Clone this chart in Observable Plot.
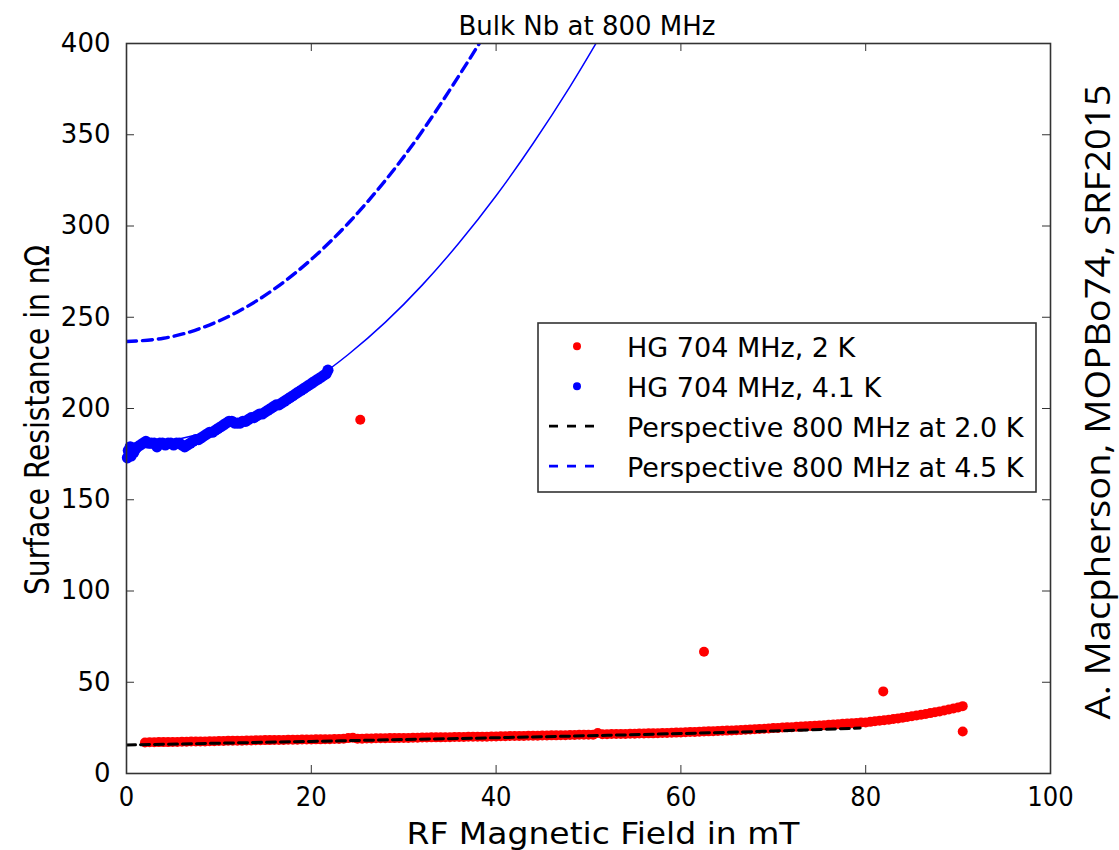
<!DOCTYPE html>
<html><head><meta charset="utf-8">
<script src="https://cdn.jsdelivr.net/npm/d3@7"></script>
<script src="https://cdn.jsdelivr.net/npm/@observablehq/plot@0.6"></script>
<style>body{margin:0;background:#fff;} svg{display:block}</style>
</head><body><div id="chart"></div>
<script>
// ---- data ----
const titleText = "Bulk Nb at 800 MHz";
const xLabel = "RF Magnetic Field in mT";
const yLabel = "Surface Resistance in nΩ";
const sideNote = "A. Macpherson, MOPBo74, SRF2015";
const xTicks = [0, 20, 40, 60, 80, 100];
const yTicks = [0, 50, 100, 150, 200, 250, 300, 350, 400];
const legendLabels = ["HG 704 MHz, 2 K", "HG 704 MHz, 4.1 K", "Perspective 800 MHz at 2.0 K", "Perspective 800 MHz at 4.5 K"];
const legendColors = ["#ff0000", "#0000ff", "#000000", "#0000ff"];
const legendKinds = ["dot", "dot", "dash", "dash"];

// HG 704 MHz, 4.1 K (measured)
const blue41Field = [0.1,0.2,0.3,0.4,0.5,0.6,0.8,1.0,1.2,1.5,1.8,2.1,2.4,2.7,3.0,3.3,3.6,3.9,4.2,4.5,4.8,5.1,5.4,5.7,6.0,6.3,6.6,6.9,7.2,7.5,7.8,8.1,8.4,8.7,9.0,9.3,9.6,9.9,10.2,10.5,10.8,11.1,11.4,11.7,12.0,12.3,12.6,12.9,13.2,13.5,13.8,14.1,14.4,14.7,15.0,15.3,15.6,15.9,16.2,16.5,16.8,17.1,17.4,17.7,18.0,18.3,18.6,18.9,19.2,19.5,19.8,20.1,20.4,20.7,21.0,21.3,21.6,21.8];
const blue41Rs = [173,177,175,179,174,178,176,178,179,180,
  181,182,181,181,181,179,181,181,180,181,
  181,180,181,181,180,179,180,181,182,183,
  183,184,185,186,187,187,188,189,190,191,
  192,193,193,192,192,192,193,193,194,195,
  195,196,197,197,198,199,200,201,202,202,
  203,204,205,206,207,208,209,210,211,212,
  213,214,215,216,217,218,219,221];

// HG 704 MHz, 2 K (measured)
const red2Field = [2,2.5,3,3.5,4,4.5,5,5.5,6,6.5,7,7.5,8,8.5,9,9.5,10,
  10.5,11,11.5,12,12.5,13,13.5,14,14.5,15,15.5,16,16.5,17,17.5,18,18.5,19,19.5,20,
  20.5,21,21.5,22,22.5,23,23.5,24,24.5,25,25.5,26,26.5,27,27.5,28,28.5,29,29.5,30,
  30.5,31,31.5,32,32.5,33,33.5,34,34.5,35,35.5,36,36.5,37,37.5,38,38.5,39,39.5,40,
  40.5,41,41.5,42,42.5,43,43.5,44,44.5,45,45.5,46,46.5,47,47.5,48,48.5,49,49.5,50,
  50.5,51,51.5,52,52.5,53,53.5,54,54.5,55,55.5,56,56.5,57,57.5,58,58.5,59,59.5,60,
  60.5,61,61.5,62,62.5,63,63.5,64,64.5,65,65.5,66,66.5,67,67.5,68,68.5,69,69.5,70,
  70.5,71,71.5,72,72.5,73,73.5,74,74.5,75,75.5,76,76.5,77,77.5,78,78.5,79,79.5,80,
  80.5,81,81.5,82,82.5,83,83.5,84,84.5,85,85.5,86,86.5,87,87.5,88,88.5,89,89.5,90,90.5,
  25.3,62.5,81.9,90.5];
const red2Rs = [17.0,17.1,17.1,17.2,17.2,17.2,17.3,17.3,17.4,17.4,17.5,17.5,17.6,17.6,17.7,17.7,17.8,
  17.8,17.9,17.9,18.0,18.0,18.1,18.1,18.2,18.2,18.3,18.3,18.4,18.4,18.4,18.5,18.5,18.5,18.6,18.6,18.6,
  18.7,18.7,18.8,18.8,18.9,18.9,19.0,19.4,19.6,19.1,19.1,19.2,19.2,19.3,19.3,19.3,19.4,19.4,19.5,19.5,
  19.5,19.6,19.6,19.7,19.7,19.8,19.8,19.8,19.9,19.9,20.0,20.0,20.0,20.1,20.1,20.2,20.2,20.2,20.3,20.3,
  20.4,20.4,20.5,20.5,20.6,20.6,20.7,20.7,20.7,20.8,20.8,20.9,20.9,21.0,21.0,21.1,21.1,21.2,21.2,21.3,
  21.3,22.2,21.5,21.5,21.6,21.6,21.7,21.7,21.8,21.8,21.9,21.9,22.0,22.0,22.1,22.2,22.2,22.3,22.4,22.5,
  22.6,22.7,22.8,22.9,23.0,23.1,23.2,23.3,23.4,23.5,23.6,23.7,23.8,24.0,24.1,24.3,24.4,24.5,24.7,24.9,
  25.0,25.2,25.3,25.4,25.6,25.7,25.9,26.0,26.2,26.3,26.5,26.7,26.8,27.0,27.2,27.4,27.5,27.7,27.9,28.0,
  28.3,28.6,28.9,29.2,29.5,29.9,30.2,30.6,31.0,31.4,31.8,32.2,32.6,33.1,33.6,34.0,34.5,35.1,35.6,36.2,36.9,
  193.8,66.7,45.0,23.0];

// Perspective 800 MHz at 2.0 K
const persp20Field = [0, 10, 20, 30, 40, 50, 60, 70, 79.4];
const persp20Rs = [15.6, 16.6, 17.6, 18.6, 19.6, 20.7, 21.9, 23.3, 24.9];
// Perspective 800 MHz at 4.5 K
const persp45Field = [0, 4, 8, 12, 16, 20, 24, 28, 32, 36, 38.3];
const persp45Rs = [236.7, 238.5, 243.9, 252.9, 265.5, 281.7, 301.5, 324.9, 351.9, 382.5, 401];
// fit through the 4.1 K data
const fit41Field = [0, 4, 8, 12, 16, 20, 24, 28, 32, 36, 40, 44, 48, 51];
const fit41Rs = [180.6, 182.0, 186.0, 192.8, 202.4, 214.6, 229.6, 247.2, 267.6, 290.8, 316.6, 345.2, 376.4, 401.7];

// ---- build tables ----
const zip = (xs, ys) => xs.map((x, i) => ({x, y: ys[i]}));
const blue41 = zip(blue41Field, blue41Rs);
const red2 = zip(red2Field, red2Rs);
const persp20 = zip(persp20Field, persp20Rs);
const persp45 = zip(persp45Field, persp45Rs);
const fit41 = zip(fit41Field, fit41Rs);

const W = 1119, H = 850, mT = 43, mB = 77, mL = 126, mR = 69;
const frameW = W - mL - mR, frameH = H - mT - mB, tickLen = 8;

const chart = Plot.plot({
  width: W, height: H,
  marginTop: mT, marginBottom: mB, marginLeft: mL, marginRight: mR,
  x: {domain: [0, 100]},
  y: {domain: [0, 400]},
  style: {fontFamily: "'DejaVu Sans', sans-serif", fontSize: "26px", background: "white", color: "black"},
  marks: [
    Plot.line(fit41, {x: "x", y: "y", stroke: "#0000ff", strokeWidth: 1.5, curve: "natural", clip: true}),
    Plot.dot(red2, {x: "x", y: "y", r: 5, fill: "#ff0000", stroke: "none"}),
    Plot.dot(blue41, {x: "x", y: "y", r: 5.6, fill: "#0000ff", stroke: "none"}),
    Plot.line(persp20, {x: "x", y: "y", stroke: "black", strokeWidth: 3, strokeDasharray: "9,5", curve: "natural", clip: true}),
    Plot.line(persp45, {x: "x", y: "y", stroke: "#0000ff", strokeWidth: 3.4, strokeDasharray: "10,6", curve: "natural", clip: true}),
    Plot.ruleX(xTicks, {x: d => d, insetTop: frameH - tickLen, stroke: "#333", strokeWidth: 1}),
    Plot.ruleX(xTicks, {x: d => d, insetBottom: frameH - tickLen, stroke: "#333", strokeWidth: 1}),
    Plot.ruleY(yTicks, {y: d => d, insetRight: frameW - tickLen, stroke: "#333", strokeWidth: 1}),
    Plot.ruleY(yTicks, {y: d => d, insetLeft: frameW - tickLen, stroke: "#333", strokeWidth: 1}),
    Plot.frame({stroke: "#333", strokeWidth: 1.6}),
    Plot.axisX({ticks: xTicks, tickSize: 0, tickPadding: 13, label: null, fontSize: 27,
      fontFamily: "'DejaVu Sans Condensed', 'DejaVu Sans', sans-serif"}),
    Plot.axisY({ticks: yTicks, tickSize: 0, tickPadding: 16, label: null, fontSize: 26})
  ]
});
document.getElementById("chart").appendChild(chart);

const svg = d3.select(chart);
svg.append("text").attr("x", 587).attr("y", 35).attr("text-anchor", "middle")
  .style("font-family", "'DejaVu Sans'").style("font-size", "26px").attr("fill", "black").text(titleText);
svg.append("text").attr("x", 603).attr("y", 844).attr("text-anchor", "middle")
  .attr("textLength", 393).attr("lengthAdjust", "spacingAndGlyphs")
  .style("font-family", "'DejaVu Sans Condensed', 'DejaVu Sans'").style("font-size", "30px").attr("fill", "black").text(xLabel);
svg.append("text").attr("transform", "translate(49,420) rotate(-90)").attr("text-anchor", "middle")
  .attr("textLength", 350).attr("lengthAdjust", "spacingAndGlyphs")
  .style("font-family", "'DejaVu Sans Condensed', 'DejaVu Sans'").style("font-size", "34px").attr("fill", "black").text(yLabel);
svg.append("text").attr("transform", "translate(1110,402) rotate(-90)").attr("text-anchor", "middle")
  .attr("textLength", 635).attr("lengthAdjust", "spacingAndGlyphs")
  .style("font-family", "'Open Sans'").style("font-weight", "400").style("font-size", "35px").attr("fill", "black").text(sideNote);

// legend
const lg = svg.append("g");
lg.append("rect").attr("x", 538).attr("y", 323).attr("width", 498).attr("height", 169)
  .attr("fill", "white").attr("stroke", "#333").attr("stroke-width", 1.6);
legendLabels.forEach((lab, i) => {
  const base = 356.7 + i * 40;
  const cy = base - 10.5;
  if (legendKinds[i] === "dot") {
    lg.append("circle").attr("cx", 577).attr("cy", cy).attr("r", 4).attr("fill", legendColors[i]);
  } else {
    lg.append("line").attr("x1", 549).attr("x2", 595).attr("y1", cy).attr("y2", cy)
      .attr("stroke", legendColors[i]).attr("stroke-width", 2.8).attr("stroke-dasharray", "9,9");
  }
  lg.append("text").attr("x", 627).attr("y", base).attr("text-anchor", "start")
    .style("font-family", "'DejaVu Sans'").style("font-size", "27px").attr("fill", "black").text(lab);
});
</script>
</body></html>
